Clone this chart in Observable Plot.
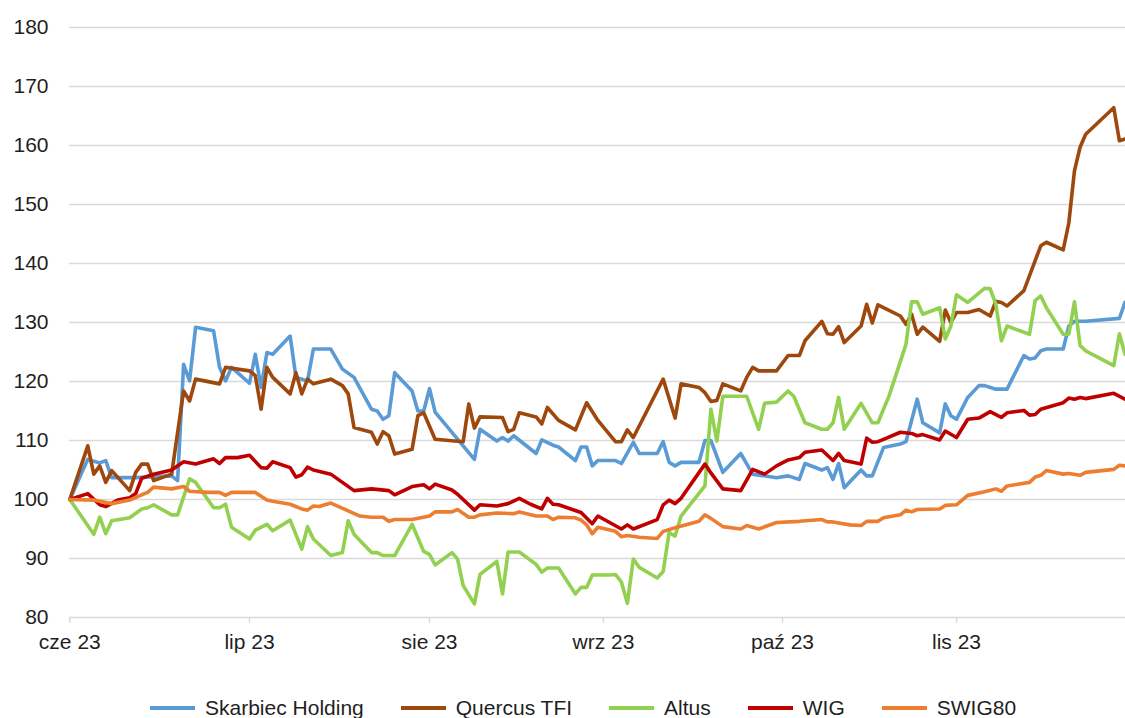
<!DOCTYPE html>
<html>
<head>
<meta charset="utf-8">
<script src="https://cdn.jsdelivr.net/npm/d3@7"></script>
<script src="https://cdn.jsdelivr.net/npm/@observablehq/plot@0.6"></script>
<style>
  html, body { margin: 0; padding: 0; background: #fff; }
  body { width: 1125px; height: 718px; overflow: hidden; font-family: "Liberation Sans", Arial, sans-serif; }
  #legend { display: flex; align-items: center; margin-left: 150px; margin-top: 24px; height: 24px; font-size: 21px; color: #1f1f1f; }
  #legend .item { display: flex; align-items: center; margin-right: 37px; white-space: nowrap; }
  #legend .swatch { display: inline-block; width: 45px; height: 4px; margin-right: 10px; }
</style>
</head>
<body>
<div id="chart"></div>
<div id="legend"></div>
<script>
// ---- Data ----
const seriesNames = ["Skarbiec Holding", "Quercus TFI", "Altus", "WIG", "SWIG80"];
const seriesColors = ["#5B9BD5", "#9E480E", "#92D050", "#C00000", "#ED7D31"];
const monthTicks = ["2023-06-01", "2023-07-01", "2023-08-01", "2023-09-01", "2023-10-01", "2023-11-01"];
const monthLabels = ["cze 23", "lip 23", "sie 23", "wrz 23", "paź 23", "lis 23"];
const yTicks = [80, 90, 100, 110, 120, 130, 140, 150, 160, 170, 180];

const skarbiec = [
  ["06-01",100],["06-04",106.8],["06-06",106.2],["06-07",106.6],["06-08",103.7],["06-12",103.7],["06-18",104],["06-19",103.2],
  ["06-20",122.9],["06-21",120.1],["06-22",129.2],["06-25",128.6],["06-26",122.4],["06-27",120.1],["06-28",122.4],["06-29",121.5],
  ["07-01",119.7],["07-02",124.6],["07-03",119],["07-04",124.9],["07-05",124.6],["07-08",127.7],["07-09",120.7],["07-11",120.1],
  ["07-12",125.5],["07-15",125.5],["07-17",122.1],["07-19",120.7],["07-22",115.3],["07-23",115],["07-24",113.6],["07-25",114.2],
  ["07-26",121.5],["07-29",118.4],["07-30",115],["07-31",115],["08-01",118.8],["08-02",114.8],["08-07",109.1],["08-09",106.8],
  ["08-10",111.9],["08-13",109.9],["08-14",110.5],["08-15",109.9],["08-16",110.8],["08-20",107.8],["08-21",110.1],["08-23",109.2],
  ["08-24",108.9],["08-27",106.6],["08-28",108.9],["08-29",108.9],["08-30",105.7],["08-31",106.6],["09-03",106.6],["09-04",106.1],
  ["09-06",109.7],["09-07",107.8],["09-10",107.8],["09-11",109.8],["09-12",106.3],["09-13",105.7],["09-14",106.3],["09-17",106.3],
  ["09-18",110],["09-19",110],["09-21",104.6],["09-24",107.8],["09-26",104.3],["09-30",103.7],["10-02",104],["10-04",103.4],
  ["10-05",106.1],["10-08",105],["10-09",105.4],["10-10",103.4],["10-11",106.1],["10-12",102],["10-15",105],["10-16",104],
  ["10-17",104],["10-19",108.8],["10-22",109.4],["10-23",109.8],["10-25",117],["10-26",113],["10-29",111.3],["10-30",116.2],
  ["10-31",114.2],["11-01",113.6],["11-03",117.3],["11-05",119.3],["11-06",119.3],["11-08",118.7],["11-10",118.7],["11-13",124.4],
  ["11-14",123.8],["11-15",124],["11-16",125.2],["11-17",125.5],["11-20",125.5],["11-21",129.4],["11-22",130.2],["11-24",130.2],
  ["11-30",130.7],["12-01",133.4]
];

const quercus = [
  ["06-01",100],["06-04",109.1],["06-05",104.3],["06-06",105.7],["06-07",102.9],["06-08",104.9],["06-11",101.5],["06-12",104.6],
  ["06-13",106],["06-14",106],["06-15",103.2],["06-18",104.3],["06-20",118.4],["06-21",116.7],["06-22",120.4],["06-26",119.6],
  ["06-27",122.4],["07-01",121.8],["07-02",121],["07-03",115.3],["07-04",122.4],["07-05",120.7],["07-08",117.9],["07-09",121.5],
  ["07-10",117.9],["07-11",120.4],["07-12",119.6],["07-15",120.4],["07-17",119.3],["07-18",117.9],["07-19",112.2],["07-22",111.4],
  ["07-23",109.4],["07-24",111.5],["07-25",110.8],["07-26",107.7],["07-29",108.5],["07-30",114.2],["07-31",114.7],["08-02",110.2],
  ["08-07",109.8],["08-08",116.2],["08-09",112.1],["08-10",114],["08-14",113.9],["08-15",111.5],["08-16",111.9],["08-17",114.7],
  ["08-20",114],["08-21",112.8],["08-22",115.6],["08-24",113.4],["08-27",111.8],["08-29",116.4],["08-31",113.4],["09-03",109.8],
  ["09-04",109.8],["09-05",111.8],["09-06",110.5],["09-11",120.4],["09-13",113.8],["09-14",119.6],["09-17",119],["09-18",118.1],
  ["09-19",116.6],["09-20",116.8],["09-21",119.6],["09-24",118.4],["09-25",120.7],["09-26",122.4],["09-27",121.8],["09-30",121.8],
  ["10-02",124.4],["10-04",124.4],["10-05",126.9],["10-08",130.2],["10-09",128.1],["10-10",128],["10-11",129.3],["10-12",126.6],
  ["10-15",129.4],["10-16",133.1],["10-17",129.9],["10-18",133],["10-22",131.1],["10-23",129.7],["10-24",131.4],["10-25",128],
  ["10-26",129.2],["10-29",126.8],["10-30",132.1],["10-31",130],["11-01",131.7],["11-03",131.7],["11-05",132.2],["11-07",131.1],
  ["11-08",133.6],["11-09",133.4],["11-10",132.8],["11-13",135.4],["11-16",143],["11-17",143.6],["11-20",142.3],["11-21",146.9],
  ["11-22",155.7],["11-23",159.7],["11-24",161.9],["11-29",166.4],["11-30",160.8],["12-01",161.1]
];

const altus = [
  ["06-01",100],["06-05",94.1],["06-06",97],["06-07",94.2],["06-08",96.4],["06-11",96.9],["06-13",98.4],["06-14",98.6],
  ["06-15",99.1],["06-18",97.4],["06-19",97.4],["06-21",103.5],["06-22",102.9],["06-25",98.6],["06-26",98.6],["06-27",99.2],
  ["06-28",95.3],["07-01",93.3],["07-02",94.8],["07-04",95.8],["07-05",94.7],["07-08",96.5],["07-10",91.6],["07-11",95.4],
  ["07-12",93.3],["07-15",90.5],["07-17",91],["07-18",96.4],["07-19",94.1],["07-22",91],["07-23",91],["07-24",90.5],
  ["07-26",90.5],["07-29",95.8],["07-31",91.2],["08-01",90.7],["08-02",88.9],["08-05",91],["08-06",89.9],["08-07",85.4],
  ["08-09",82.3],["08-10",87.3],["08-13",89.5],["08-14",84],["08-15",91.1],["08-17",91.1],["08-20",89],["08-21",87.7],
  ["08-22",88.4],["08-24",88.4],["08-27",84],["08-28",85.1],["08-29",85.1],["08-30",87.2],["09-02",87.2],["09-03",87.3],
  ["09-04",86],["09-05",82.4],["09-06",89.9],["09-07",88.5],["09-10",86.7],["09-11",87.8],["09-12",94.4],["09-13",93.8],
  ["09-14",97.2],["09-18",102.3],["09-19",115.3],["09-20",109.9],["09-21",117.5],["09-25",117.5],["09-27",111.9],["09-28",116.3],
  ["09-30",116.5],["10-02",118.4],["10-03",117.5],["10-05",113],["10-08",111.9],["10-09",111.9],["10-10",113],["10-11",117.3],
  ["10-12",111.9],["10-15",116.3],["10-17",113],["10-18",113],["10-20",117.6],["10-23",126.3],["10-24",133.5],["10-25",133.5],
  ["10-26",131.4],["10-29",132.5],["10-30",127.2],["10-31",129.4],["11-01",134.7],["11-03",133.4],["11-06",135.8],["11-07",135.7],
  ["11-08",133.1],["11-09",126.9],["11-10",129.4],["11-14",128],["11-15",133.7],["11-16",134.5],["11-17",132.5],["11-20",128],
  ["11-21",128],["11-22",133.5],["11-23",126.1],["11-24",125.2],["11-29",122.7],["11-30",128.1],["12-01",124.6]
];

const wig = [
  ["06-01",100],["06-04",101],["06-06",99.1],["06-07",98.8],["06-09",99.9],["06-11",100.3],["06-12",101],["06-13",103.6],
  ["06-15",104.3],["06-18",105],["06-20",106.4],["06-22",106],["06-25",106.9],["06-26",106.1],["06-27",107.1],["06-29",107.1],
  ["07-01",107.5],["07-03",105.4],["07-04",105.3],["07-05",106.4],["07-08",105.4],["07-09",103.8],["07-10",104.2],["07-11",105.5],
  ["07-12",105],["07-15",104.3],["07-19",101.5],["07-22",101.8],["07-25",101.5],["07-26",100.8],["07-29",102.2],["07-31",102.5],
  ["08-01",101.8],["08-02",102.6],["08-05",101.6],["08-06",100.9],["08-09",98.2],["08-10",99.1],["08-13",98.9],["08-15",99.3],
  ["08-17",100.2],["08-19",99.2],["08-21",98.4],["08-22",100.2],["08-23",99.2],["08-24",99.1],["08-28",97.8],["08-30",95.9],
  ["08-31",97.2],["09-04",95],["09-05",95.7],["09-06",95],["09-10",96.6],["09-11",99.1],["09-12",99.9],["09-13",99.3],
  ["09-14",100.2],["09-18",106],["09-19",104.5],["09-21",101.8],["09-24",101.5],["09-26",105.1],["09-28",104.3],["09-30",105.7],
  ["10-02",106.7],["10-04",107.1],["10-05",108],["10-08",108.4],["10-10",106.6],["10-11",107.8],["10-12",106.6],["10-15",106],
  ["10-16",110.4],["10-17",109.7],["10-18",109.8],["10-19",110.2],["10-22",111.4],["10-24",111.2],["10-25",110.8],["10-26",111],
  ["10-29",110.1],["10-30",111.6],["11-01",110.5],["11-03",113.6],["11-05",113.8],["11-07",114.9],["11-09",113.9],["11-10",114.7],
  ["11-13",115.1],["11-14",114.3],["11-15",114.4],["11-16",115.3],["11-20",116.4],["11-21",117.2],["11-22",117],["11-23",117.3],
  ["11-24",117.1],["11-29",118],["12-01",117]
];

const swig80 = [
  ["06-01",100],["06-05",99.9],["06-08",99.3],["06-11",99.9],["06-13",100.8],["06-14",101.2],["06-15",102.1],["06-18",101.8],
  ["06-20",102.2],["06-21",101.4],["06-24",101.2],["06-26",101.2],["06-27",100.7],["06-28",101.2],["06-30",101.2],["07-02",101.2],
  ["07-04",99.9],["07-05",99.7],["07-08",99.2],["07-10",98.4],["07-11",98.2],["07-12",98.9],["07-13",98.8],["07-15",99.4],
  ["07-20",97.2],["07-22",97],["07-24",97],["07-25",96.3],["07-26",96.6],["07-29",96.6],["08-01",97.2],["08-02",97.9],
  ["08-05",97.9],["08-06",98.3],["08-08",97],["08-09",97],["08-10",97.4],["08-13",97.7],["08-16",97.6],["08-17",97.9],
  ["08-20",97.2],["08-22",97.2],["08-23",96.6],["08-24",97],["08-27",96.9],["08-28",96.5],["08-29",95.7],["08-30",94.2],
  ["08-31",95.3],["09-03",94.6],["09-04",93.7],["09-05",93.9],["09-07",93.6],["09-10",93.4],["09-11",94.6],["09-13",95.2],
  ["09-17",96.3],["09-18",97.4],["09-19",96.8],["09-21",95.4],["09-24",95],["09-25",95.6],["09-27",95],["09-30",96.1],
  ["10-04",96.3],["10-08",96.6],["10-09",96.2],["10-10",96.2],["10-13",95.7],["10-15",95.6],["10-16",96.3],["10-18",96.3],
  ["10-19",96.9],["10-22",97.4],["10-23",98.2],["10-24",97.9],["10-25",98.3],["10-29",98.4],["10-30",99],["11-01",99.1],
  ["11-03",100.7],["11-06",101.3],["11-08",101.8],["11-09",101.4],["11-10",102.3],["11-14",102.9],["11-15",103.8],["11-16",104.1],
  ["11-17",104.9],["11-20",104.3],["11-21",104.4],["11-23",104.1],["11-24",104.6],["11-29",105.1],["11-30",105.8],["12-01",105.7]
];

// ---- Build table ----
const seriesData = [skarbiec, quercus, altus, wig, swig80];
const rows = seriesData.flatMap((arr, i) =>
  arr.map(([d, v]) => ({ series: seriesNames[i], date: new Date("2023-" + d + "T00:00:00Z"), value: v }))
);
const tickDates = monthTicks.map(s => new Date(s + "T00:00:00Z"));
const labelOf = new Map(tickDates.map((d, i) => [+d, monthLabels[i]]));
const xDomain = [...tickDates, new Date("2023-12-01T00:00:00Z")];

const chart = Plot.plot({
  width: 1125,
  height: 672,
  marginLeft: 69,
  marginRight: 0,
  marginTop: 27,
  marginBottom: 55,
  style: { fontFamily: "'Liberation Sans', Arial, sans-serif", fontSize: "21px", color: "#1f1f1f", background: "#fff", overflow: "visible" },
  x: { type: "utc", domain: xDomain, range: [69.3, 249, 429, 603, 782, 956, 1124.5] },
  y: { domain: [80, 180] },
  color: { domain: seriesNames, range: seriesColors },
  marks: [
    Plot.gridY(yTicks, { stroke: "#d9d9d9", strokeOpacity: 1, strokeWidth: 1.4 }),
    Plot.axisY(yTicks, { tickSize: 0, tickPadding: 21, label: null, tickFormat: d => String(d) }),
    Plot.axisX(tickDates, { tickSize: 6, tickPadding: 11, label: null, stroke: "#d9d9d9", strokeWidth: 1.4, tickFormat: d => labelOf.get(+d) }),
    Plot.line(rows, { x: "date", y: "value", z: "series", stroke: "series", strokeWidth: 3.6, strokeLinejoin: "round", strokeLinecap: "round" })
  ]
});
document.getElementById("chart").appendChild(chart);

// ---- Legend ----
const legend = document.getElementById("legend");
seriesNames.forEach((name, i) => {
  const item = document.createElement("div");
  item.className = "item";
  const sw = document.createElement("span");
  sw.className = "swatch";
  sw.style.background = seriesColors[i];
  const label = document.createElement("span");
  label.textContent = name;
  item.appendChild(sw);
  item.appendChild(label);
  legend.appendChild(item);
});
</script>
</body>
</html>
